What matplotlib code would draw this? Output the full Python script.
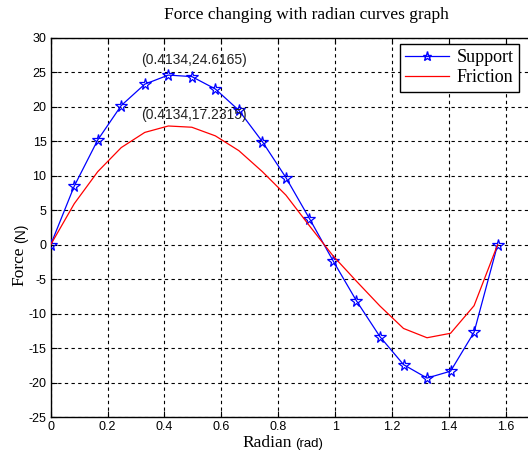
import matplotlib
matplotlib.use("Agg")
import matplotlib.pyplot as plt
from matplotlib.lines import Line2D

radian = [0.0, 0.0827, 0.1653, 0.2480, 0.3307, 0.4134, 0.4960, 0.5787, 0.6614,
          0.7441, 0.8267, 0.9094, 0.9921, 1.0748, 1.1574, 1.2401, 1.3228, 1.4055,
          1.4881, 1.5708]
support = [0.0, 8.5, 15.2, 20.2, 23.3, 24.6165, 24.4, 22.6, 19.5, 14.95,
           9.75, 3.8, -2.3, -8.15, -13.35, -17.4, -19.35, -18.35, -12.7, 0.0]
friction = [0.0, 5.95, 10.6, 14.1, 16.3, 17.2315, 17.05, 15.8, 13.65, 10.6,
            7.2, 2.75, -1.6, -5.3, -8.9, -12.15, -13.5, -12.85, -8.85, 0.0]

title = "Force changing with radian curves graph"
xticks = [0, 0.2, 0.4, 0.6, 0.8, 1.0, 1.2, 1.4, 1.6]
xticklabels = ["0", "0.2", "0.4", "0.6", "0.8", "1", "1.2", "1.4", "1.6"]
yticks = [-25, -20, -15, -10, -5, 0, 5, 10, 15, 20, 25, 30]
peak_labels = ["(0.4134,24.6165)", "(0.4134,17.2315)"]

W, H = 528, 459
fig = plt.figure(figsize=(W / 100, H / 100), dpi=100)
left, right, bottom, top = 50.7, 562.8, 417, 38
ax = fig.add_axes([left / W, 1 - bottom / H, (right - left) / W, (bottom - top) / H])

sans = ["Liberation Sans", "DejaVu Sans"]
serif = ["Liberation Serif", "DejaVu Serif"]

ax.plot(radian, support, color="#0000ff", lw=0.9, marker="*", markersize=8.5,
        markerfacecolor="none", markeredgecolor="#0000ff", markeredgewidth=0.9,
        label="Support", zorder=3)
ax.plot(radian, friction, color="#ff0000", lw=0.9, label="Friction", zorder=3)

ax.set_xlim(0, 1.8)
ax.set_ylim(-25, 30)
ax.set_xticks(xticks)
ax.set_xticklabels(xticklabels, family=sans, fontsize=9)
ax.set_yticks(yticks)
ax.set_yticklabels([str(v) for v in yticks], family=sans, fontsize=9)
ax.tick_params(direction="in", top=True, right=True, length=4, width=0.8,
               colors="black", pad=3)
ax.grid(True, color="black", linestyle=(0, (3, 3)), linewidth=0.8)
for s in ax.spines.values():
    s.set_linewidth(1.0)
    s.set_color("black")

ax.text(0.505, 25.8, peak_labels[0], ha="center", va="bottom",
        family=sans, fontsize=10, color="#222222", zorder=4)
ax.text(0.505, 17.8, peak_labels[1], ha="center", va="bottom",
        family=sans, fontsize=10, color="#222222", zorder=4)

fig.text(306.5 / W, 1 - 15 / H, title, ha="center", va="center",
         family=serif, fontsize=12.5)

# x label: serif "Radian" plus small sans "(rad)"
fig.text(292 / W, 1 - 447 / H, "Radian", ha="right", va="baseline",
         family=serif, fontsize=12.5)
fig.text(295 / W, 1 - 447 / H, "(rad)", ha="left", va="baseline",
         family=sans, fontsize=9.5)
# y label
fig.text(19 / W, 1 - 246 / H, "Force", ha="center", va="top",
         family=serif, fontsize=12.5, rotation=90)
fig.text(21 / W, 1 - 243 / H, "(N)", ha="center", va="bottom",
         family=sans, fontsize=10, rotation=90)

handles = [Line2D([], [], color="#0000ff", lw=0.9, marker="*", markersize=6.5,
                  markerfacecolor="none", markeredgecolor="#0000ff"),
           Line2D([], [], color="#ff0000", lw=0.9)]
leg = ax.legend(handles, ["Support", "Friction"], loc="upper left",
                bbox_to_anchor=(400 / W, 1 - 44 / H), bbox_transform=fig.transFigure,
                prop={"family": serif, "size": 13}, frameon=True, fancybox=False,
                edgecolor="black", framealpha=1, handlelength=2.4, handletextpad=0.45,
                borderpad=0.3, labelspacing=0.15, borderaxespad=0, markerscale=1)
leg.get_frame().set_linewidth(1.0)

fig.savefig("out.png", dpi=100)
